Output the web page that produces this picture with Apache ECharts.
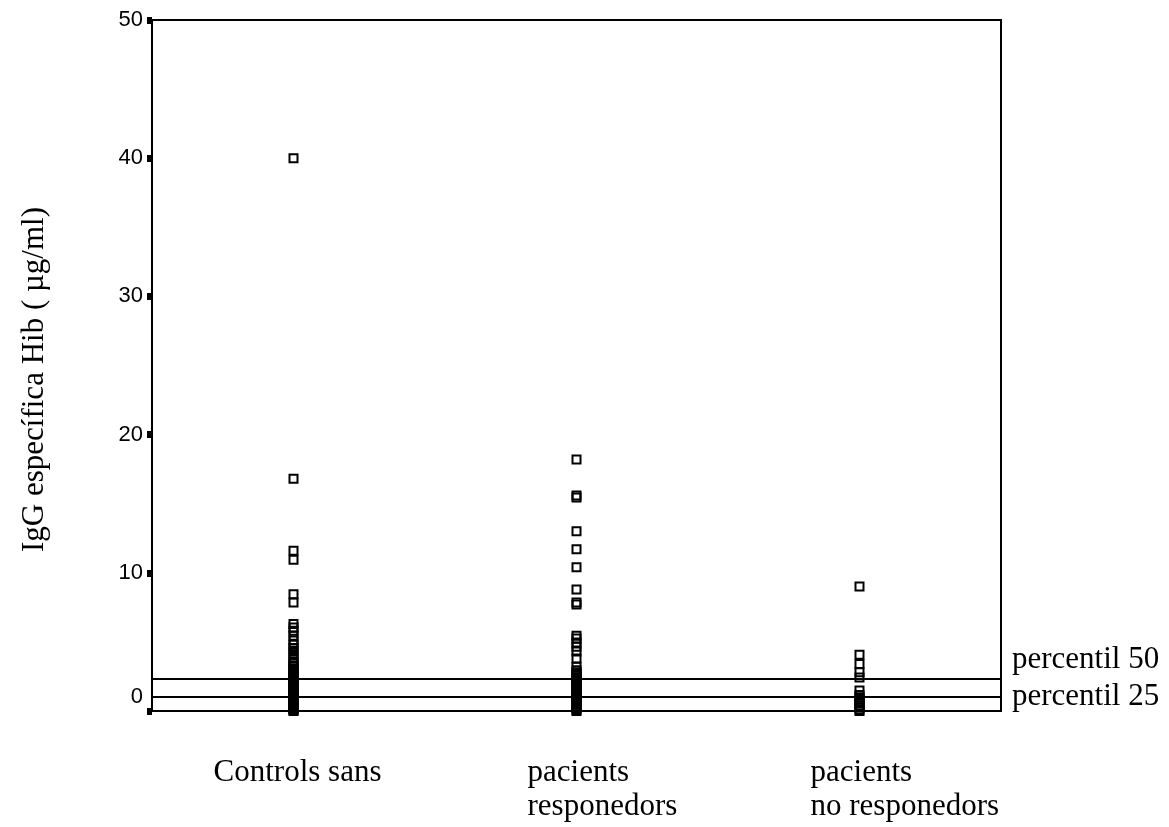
<!DOCTYPE html>
<html>
<head>
<meta charset="utf-8">
<script src="https://cdn.jsdelivr.net/npm/echarts@6/dist/echarts.min.js"></script>
<style>
  html, body { margin: 0; padding: 0; background: #fff; }
  #chart { width: 1169px; height: 827px; }
</style>
</head>
<body>
<div id="chart"></div>
<script>
// ---- data ----
const categories = ['Controls sans', 'pacients\nresponedors', 'pacients\nno responedors'];
const controls = [40.0, 16.8, 11.6, 10.95, 8.45, 7.85, 6.3, 6.05, 5.8, 5.45, 5.1, 4.8, 4.55, 4.35, 4.1, 3.85,
  3.6, 3.45, 3.3, 3.2, 3.05, 2.9, 2.8, 2.7, 2.55, 2.45, 2.35, 2.2, 2.1, 2.0, 1.9, 1.8, 1.7, 1.6, 1.5, 1.4,
  1.3, 1.2, 1.1, 1.0, 0.9, 0.8, 0.7, 0.6, 0.5, 0.4, 0.3, 0.2, 0.1, 0.05, 0.0];
const responedors = [18.2, 15.6, 15.45, 13.0, 11.7, 10.4, 8.8, 7.85, 7.7, 5.45, 5.25, 4.95, 4.65, 4.3, 3.8, 3.2,
  2.95, 2.8, 2.7, 2.55, 2.45, 2.3, 2.2, 2.05, 1.95, 1.8, 1.7, 1.6, 1.45, 1.35, 1.2, 1.1, 0.95, 0.85, 0.7,
  0.6, 0.45, 0.35, 0.2, 0.1, 0.0];
const noResponedors = [9.0, 4.07, 3.4, 2.8, 2.43, 1.49, 1.15, 1.0, 0.85, 0.7, 0.55, 0.4, 0.25, 0.1, 0.0];
const groups = [controls, responedors, noResponedors];
const yTicks = { min: 0, max: 50, interval: 10 };
const percentiles = [
  { name: 'percentil 50', value: 2.35 },
  { name: 'percentil 25', value: 1.0 }
];
const yTitle = 'IgG específica Hib ( µg/ml)';

// ---- chart ----
const chart = echarts.init(document.getElementById('chart'), null, { renderer: 'canvas' });
const serif = '"Liberation Serif", "Times New Roman", serif';
const sans = '"Liberation Sans", Arial, sans-serif';

const series = groups.map((vals, gi) => {
  const s = {
    type: 'scatter',
    symbol: 'rect',
    symbolSize: 8,
    silent: true,
    animation: false,
    itemStyle: { color: 'rgba(0,0,0,0)', borderColor: '#000', borderWidth: 2, opacity: 1 },
    emphasis: { disabled: true },
    data: vals.map(v => [gi, v])
  };
  if (gi === 0) {
    s.markLine = {
      silent: true,
      animation: false,
      symbol: ['none', 'none'],
      lineStyle: { color: '#000', width: 2, type: 'solid' },
      emphasis: { disabled: true },
      label: {
        show: true, position: 'end', formatter: '{b}', color: '#000',
        fontFamily: serif, fontSize: 31, distance: 11
      },
      data: percentiles.map((p, i) => ({
        name: p.name, yAxis: p.value,
        label: i === 0 ? { offset: [0, -19] } : {}
      }))
    };
  }
  return s;
});

chart.setOption({
  animation: false,
  backgroundColor: '#fff',
  grid: { left: 152, right: 168, top: 20, bottom: 116, show: true, borderColor: '#000', borderWidth: 2, backgroundColor: 'transparent' },
  xAxis: {
    type: 'category',
    data: categories,
    boundaryGap: true,
    axisLine: { show: true, lineStyle: { color: '#000', width: 2 } },
    axisTick: { show: false },
    axisLabel: { show: false },
    splitLine: { show: false }
  },
  yAxis: {
    type: 'value',
    min: yTicks.min, max: yTicks.max, interval: yTicks.interval,
    name: yTitle,
    nameLocation: 'middle',
    nameGap: 102,
    nameTextStyle: { fontFamily: serif, fontSize: 31, color: '#000', padding: [0, 28, 0, 0] },
    axisLine: { show: true, lineStyle: { color: '#000', width: 2 } },
    axisTick: { show: true, length: 5, lineStyle: { color: '#000', width: 7 } },
    splitLine: { show: false },
    axisLabel: {
      color: '#000', fontFamily: sans, fontSize: 22, margin: 9,
      formatter: v => (v === 0 ? '{z|0}' : String(v)),
      rich: { z: { fontFamily: sans, fontSize: 22, color: '#000', padding: [0, 0, 28, 0] } }
    }
  },
  series: series
});

// category labels placed from the axis scale
const graphics = categories.map((c, i) => {
  const p = chart.convertToPixel({ gridIndex: 0 }, [i, 0]);
  const multi = c.indexOf('\n') >= 0;
  return {
    type: 'text',
    x: multi ? p[0] - 49 : p[0] + 4,
    y: p[1] + 45,
    silent: true,
    style: {
      text: c,
      fill: '#000',
      fontFamily: serif,
      fontSize: 31,
      lineHeight: 34,
      textAlign: multi ? 'left' : 'center',
      textVerticalAlign: 'top'
    }
  };
});
chart.setOption({ graphic: graphics });
</script>
</body>
</html>
